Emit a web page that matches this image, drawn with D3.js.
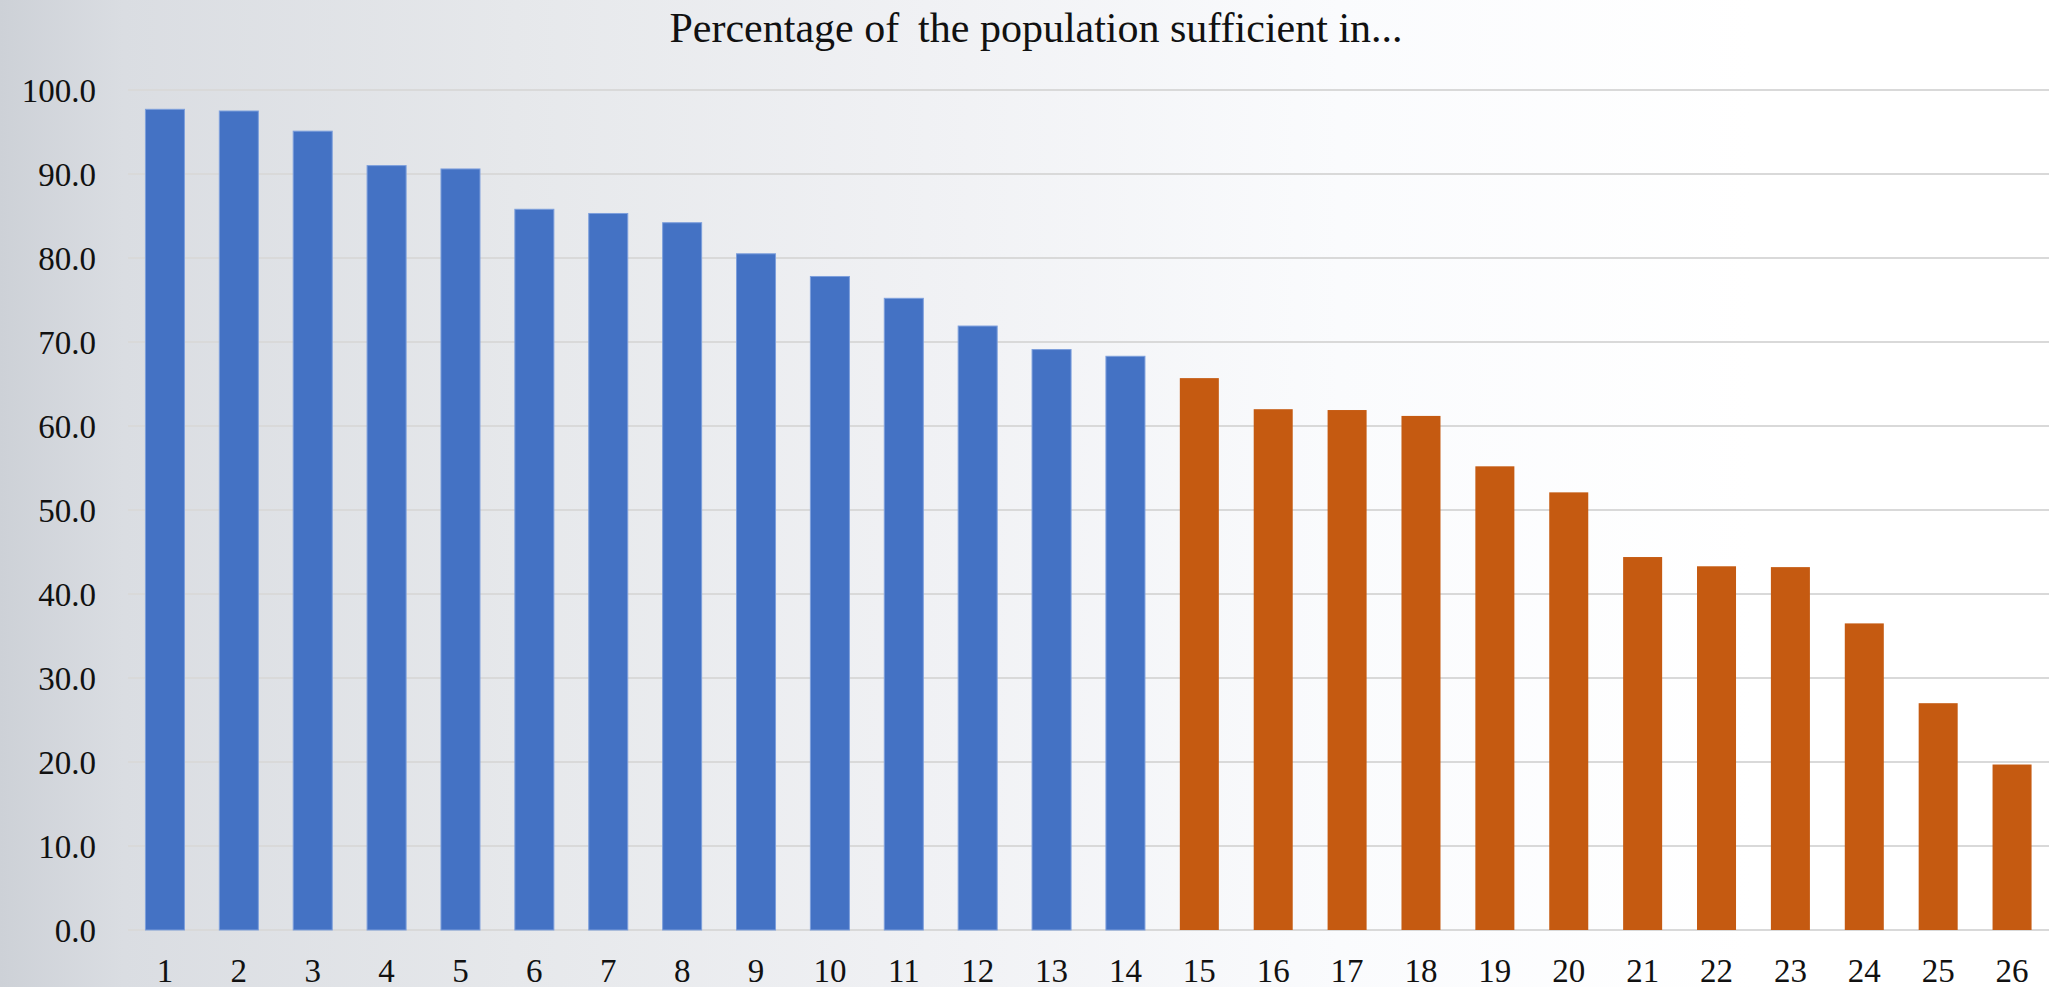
<!DOCTYPE html>
<html>
<head>
<meta charset="utf-8">
<script src="https://cdn.jsdelivr.net/npm/d3@7"></script>
<style>
  html, body { margin: 0; padding: 0; background: #fff; }
  svg { display: block; }
  text { font-family: "Liberation Serif", "DejaVu Serif", serif; fill: #111; }
</style>
</head>
<body>
<svg id="chart" width="2059" height="987"></svg>
<script>
// Category labels along the x axis
const categories = d3.range(1, 27).map(String);
// Percentages for the first group (blue) and second group (orange)
const blueValues = [97.7, 97.5, 95.1, 91.0, 90.6, 85.8, 85.3, 84.2, 80.5, 77.8, 75.2, 71.9, 69.1, 68.3];
const orangeValues = [65.7, 62.0, 61.9, 61.2, 55.2, 52.1, 44.4, 43.3, 43.2, 36.5, 27.0, 19.7];
const yTicks = [0, 10, 20, 30, 40, 50, 60, 70, 80, 90, 100];
const titleText = "Percentage of \u2009the population sufficient in...";

const W = 2059, H = 987;
const plot = { left: 128, right: 2049, top: 90, bottom: 930 };

const svg = d3.select("#chart");

// Soft grey-to-white background wash
const defs = svg.append("defs");
const bg = defs.append("linearGradient").attr("id", "bg")
  .attr("x1", "0%").attr("y1", "0%").attr("x2", "100%").attr("y2", "0%");
[[0, "#cdd1d7"], [0.06, "#dadde2"], [0.25, "#e6e8eb"], [0.45, "#f0f1f4"], [0.65, "#fafbfd"], [0.85, "#ffffff"], [1, "#ffffff"]]
  .forEach(([o, c]) => bg.append("stop").attr("offset", o).attr("stop-color", c));
svg.append("rect").attr("width", W).attr("height", H).attr("fill", "url(#bg)");

const data = categories.map((c, i) => ({
  cat: c,
  value: i < blueValues.length ? blueValues[i] : orangeValues[i - blueValues.length],
  group: i < blueValues.length ? "a" : "b"
}));

const x = d3.scaleBand().domain(categories)
  .range([plot.left, plot.right]).paddingInner(0.472).paddingOuter(0.236);
const y = d3.scaleLinear().domain([0, 100]).range([plot.bottom, plot.top]);
const color = d3.scaleOrdinal().domain(["a", "b"]).range(["#4472c4", "#c55a11"]);

// Horizontal gridlines
svg.append("g").selectAll("line").data(yTicks).join("line")
  .attr("x1", plot.left).attr("x2", plot.right)
  .attr("y1", d => y(d)).attr("y2", d => y(d))
  .attr("stroke", "#d9d9d9").attr("stroke-width", 2);

// Y axis labels
const yAxis = d3.axisLeft(y).tickValues(yTicks).tickFormat(d3.format(".1f")).tickSize(0).tickPadding(0);
const gy = svg.append("g").attr("transform", "translate(96,0)").call(yAxis);
gy.select(".domain").remove();
gy.selectAll("text").attr("font-size", 33).attr("fill", "#111")
  .attr("font-family", "Liberation Serif, serif").attr("dy", "0.34em");

// Bars
svg.append("g").selectAll("rect").data(data).join("rect")
  .attr("x", d => x(d.cat))
  .attr("width", x.bandwidth())
  .attr("y", d => y(d.value))
  .attr("height", d => y(0) - y(d.value))
  .attr("fill", d => color(d.group))
  .attr("stroke", d => d.group === "a" ? "#7d9fdc" : "none")
  .attr("stroke-width", 1);

// X axis labels
const xAxis = d3.axisBottom(x).tickSize(0).tickPadding(0);
const gx = svg.append("g").attr("transform", "translate(0,982)").call(xAxis);
gx.select(".domain").remove();
gx.selectAll("text").attr("font-size", 33).attr("fill", "#111")
  .attr("font-family", "Liberation Serif, serif").attr("dy", "0");

// Title
svg.append("text")
  .attr("x", 1036).attr("y", 42)
  .attr("text-anchor", "middle")
  .attr("font-size", 42)
  .text(titleText);
</script>
</body>
</html>
